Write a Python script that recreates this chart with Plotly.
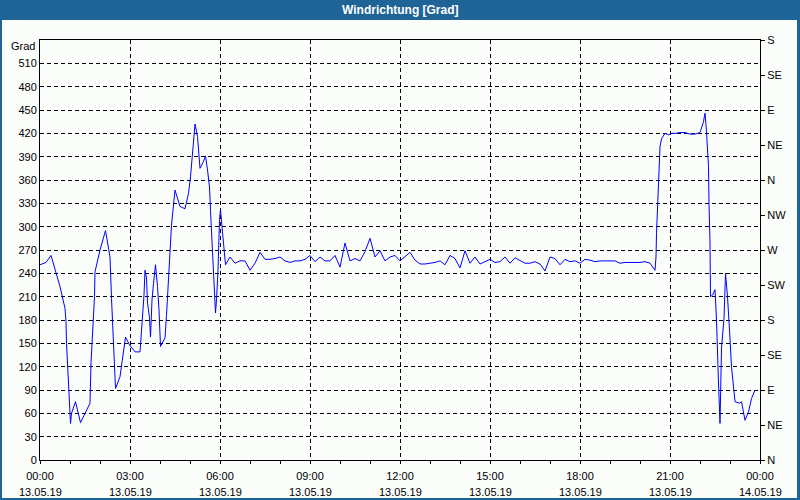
import datetime as dt
import plotly.graph_objects as go

# ---- data ----
time_min = [0, 12, 22, 32, 40, 50, 52, 53, 58, 61, 63, 71, 81, 90, 100, 102, 105, 109, 110,
            120, 131, 140, 143, 147, 151, 160, 167, 171, 179, 190, 200, 204, 208, 210, 213,
            215, 219, 221, 224, 227, 231, 235, 238, 241, 250, 253, 257, 260, 263, 270, 280,
            290, 297, 301, 305, 310, 315, 320, 327, 331, 335, 339, 341, 345, 347, 351, 353,
            356, 359, 361, 364, 368, 371, 380, 390, 400,
            410, 420, 430, 440, 450, 460, 470, 480, 490, 500, 510, 520, 530, 540, 550, 560,
            570, 580, 590, 600, 610, 620, 630, 640, 650, 660, 670, 680, 690, 700, 710, 720,
            730, 740, 750, 760, 770, 780, 790, 800, 810, 820, 830, 840, 850, 860, 870, 880,
            890, 900, 910, 920, 930, 940, 950, 960, 970, 980, 990, 1000, 1010, 1020, 1030,
            1040, 1050, 1060, 1070, 1080, 1090, 1100, 1110, 1120, 1130, 1140, 1150, 1160,
            1170, 1180, 1190, 1200, 1210, 1220, 1230,
            1232, 1233, 1235, 1238, 1240, 1243, 1250, 1257, 1263, 1270, 1280, 1290, 1300,
            1310, 1320, 1327, 1330, 1333, 1337, 1338, 1340, 1341, 1345, 1350, 1353, 1357,
            1360, 1363, 1368, 1371, 1375, 1379, 1383, 1390, 1399, 1403, 1410, 1417, 1423, 1430]
direction = [251, 254, 263, 242, 223, 195, 178, 150, 90, 47, 60, 75, 48, 60, 73, 125, 158, 210, 242,
             270, 295, 261, 208, 150, 92, 107, 137, 158, 148, 139, 139, 171, 212, 244, 234,
             202, 183, 158, 206, 227, 251, 223, 193, 146, 157, 186, 229, 270, 302, 347, 326,
             323, 343, 364, 394, 432, 416, 375, 384, 391, 373, 351, 321, 270, 240, 189, 206,
             244, 309, 322, 300, 270, 251, 261, 253, 256,
             256, 244, 253, 267, 258, 258, 259, 261, 256, 254, 256, 256, 258, 263, 255, 261,
             256, 256, 263, 248, 279, 256, 259, 256, 268, 285, 261, 269, 256, 261, 263, 256,
             262, 267, 257, 252, 252, 253, 254, 256, 251, 263, 259, 247, 269, 253, 261, 252,
             255, 258, 254, 255, 261, 253, 260, 256, 253, 253, 255, 252, 243, 261, 259,
             251, 258, 255, 256, 253, 258, 257, 255, 256, 256, 256, 256, 253,
             254, 254, 254, 254, 255, 253, 244,
             261, 291, 326, 360, 403, 413, 420, 418, 420, 420, 421, 421, 419,
             419, 421, 435, 446, 422, 377, 330, 279, 210, 212, 219, 180, 99,
             47, 144, 182, 240, 210, 167, 120, 75, 73, 75, 51, 62, 79, 90]

time_labels = ["00:00", "03:00", "06:00", "09:00", "12:00", "15:00", "18:00", "21:00", "00:00"]
date_labels = ["13.05.19"] * 8 + ["14.05.19"]
deg_ticks = list(range(0, 511, 30))
compass_labels = ["N", "NE", "E", "SE", "S", "SW", "W", "NW", "N", "NE", "E", "SE", "S"]
compass_vals = list(range(0, 541, 45))

base = dt.datetime(2019, 5, 13)
xs = [base + dt.timedelta(minutes=m) for m in time_min]
tick_dates = [base + dt.timedelta(hours=3 * i) for i in range(len(time_labels))]

BLUE = "#1f6497"
BG = "#fbfdfb"
FONT = "Liberation Sans"

W, H = 800, 500
L, R, T, B = 40, 40, 40, 40
PW, PH = W - L - R, H - T - B


def fx(px):
    return (px - L) / PW


def fy(py):
    return (H - B - py) / PH


fig = go.Figure()
fig.add_trace(go.Scatter(x=xs, y=direction, mode="lines",
                         line=dict(color="#0000ff", width=1), showlegend=False,
                         hoverinfo="x+y"))
fig.add_trace(go.Scatter(x=xs, y=direction, mode="lines", yaxis="y2",
                         line=dict(color="rgba(0,0,0,0)", width=0), showlegend=False,
                         hoverinfo="skip"))

shapes = [
    dict(type="rect", xref="paper", yref="paper", x0=fx(0), x1=fx(W), y0=fy(20), y1=fy(0),
         fillcolor=BLUE, line=dict(width=0), layer="above"),
    dict(type="rect", xref="paper", yref="paper", x0=fx(0), x1=fx(2), y0=fy(H), y1=fy(0),
         fillcolor=BLUE, line=dict(width=0), layer="above"),
    dict(type="rect", xref="paper", yref="paper", x0=fx(797), x1=fx(W), y0=fy(H), y1=fy(0),
         fillcolor=BLUE, line=dict(width=0), layer="above"),
    dict(type="rect", xref="paper", yref="paper", x0=fx(0), x1=fx(W), y0=fy(H), y1=fy(498),
         fillcolor=BLUE, line=dict(width=0), layer="above"),
]

annotations = [
    dict(text="<b>Windrichtung [Grad]</b>", xref="paper", yref="paper", x=0.5, y=fy(10),
         xanchor="center", yanchor="middle", showarrow=False,
         font=dict(family=FONT, size=12, color="white")),
    dict(text="Grad", xref="paper", yref="paper", x=0, y=fy(46), xanchor="right",
         yanchor="middle", xshift=-3, showarrow=False,
         font=dict(family=FONT, size=11, color="black")),
]
for d, lab in zip(tick_dates, date_labels):
    annotations.append(dict(text=lab, xref="x", yref="paper", x=d, y=fy(492),
                            xanchor="center", yanchor="middle", showarrow=False,
                            font=dict(family=FONT, size=11, color="black")))

fig.update_layout(
    width=W, height=H,
    margin=dict(l=L, r=R, t=T, b=B, autoexpand=False),
    paper_bgcolor=BG, plot_bgcolor=BG,
    font=dict(family=FONT, size=11, color="black"),
    shapes=shapes,
    annotations=annotations,
    xaxis=dict(
        type="date", automargin=False,
        range=[base, base + dt.timedelta(days=1)],
        tickmode="array", tickvals=tick_dates, ticktext=time_labels,
        showgrid=True, gridcolor="black", gridwidth=1, griddash="4px,3px",
        showline=True, linecolor="black", linewidth=1, mirror=True,
        ticks="outside", ticklen=3, tickcolor="black", ticklabelstandoff=3,
        minor=dict(dtick=3600000, tick0=base, ticks="outside", ticklen=3,
                   tickcolor="black", showgrid=False),
        zeroline=False, fixedrange=True,
    ),
    yaxis=dict(
        range=[0, 540], automargin=False,
        tickmode="array", tickvals=deg_ticks,
        showgrid=True, gridcolor="black", gridwidth=1, griddash="4px,3px",
        showline=True, linecolor="black", linewidth=1, mirror=True,
        ticks="", zeroline=False, fixedrange=True,
    ),
    yaxis2=dict(
        overlaying="y", side="right", range=[0, 540], automargin=False,
        tickmode="array", tickvals=compass_vals, ticktext=compass_labels,
        showgrid=False, showline=True, linecolor="black", linewidth=1,
        ticks="outside", ticklen=4, tickcolor="black", zeroline=False, fixedrange=True,
    ),
)

fig.write_html("out.html", config={"displayModeBar": False},
               post_script="document.body.style.margin='0';document.body.style.overflow='hidden';")
